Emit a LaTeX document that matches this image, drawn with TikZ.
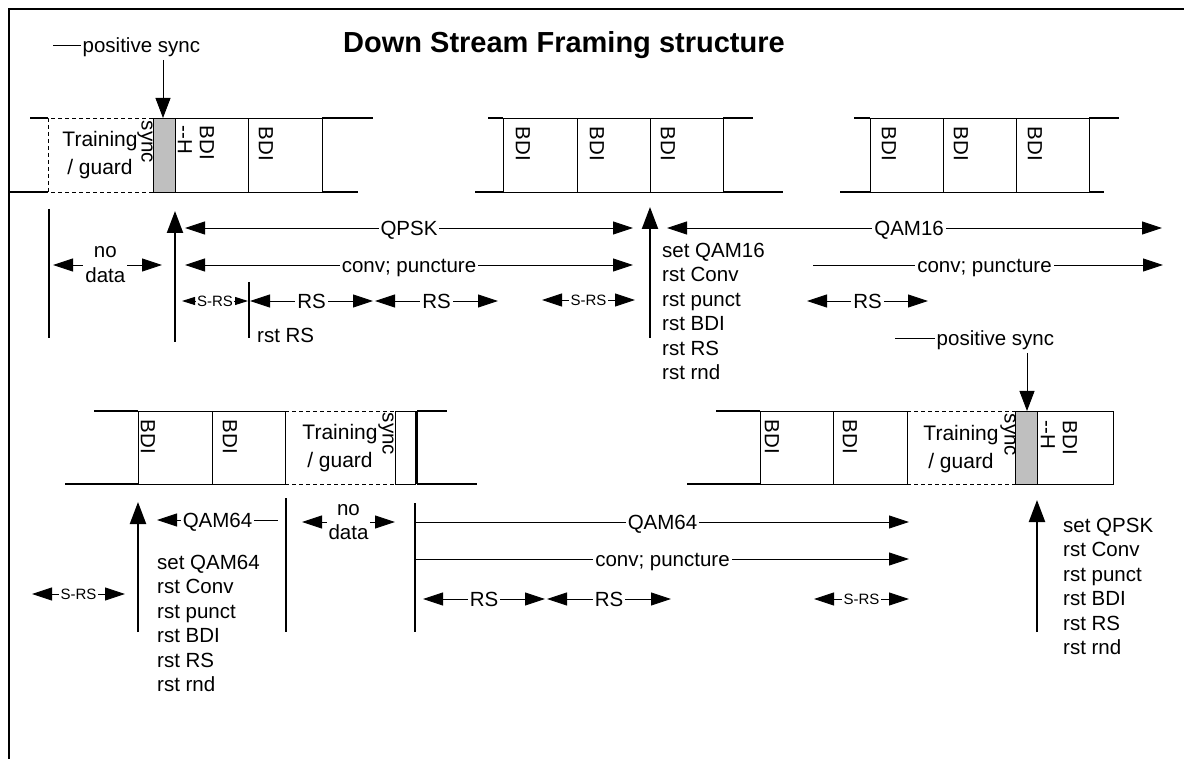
\documentclass[tikz,border=0pt]{standalone}
\usepackage{fontspec}
\setmainfont{Liberation Sans}
\usetikzlibrary{arrows.meta}

\tikzset{
  BigTri/.tip={Triangle[length=20pt,width=13pt]},
  SmallTri/.tip={Triangle[length=13pt,width=8pt]},
  UpTri/.tip={Triangle[length=22pt,width=16pt]},
  DownTri/.tip={Triangle[length=20pt,width=15pt]},
  body/.style={font=\fontsize{20.5}{24.5}\selectfont},
  lbl/.style={fill=white, inner xsep=2pt, inner ysep=0pt, text height=14.5pt,
    text depth=0pt, font=\fontsize{20.5}{24.5}\selectfont},
  slbl/.style={fill=white, inner xsep=1.5pt, inner ysep=0pt, text height=10.5pt,
    text depth=0pt, font=\fontsize{15}{18}\selectfont},
  vtext/.style={rotate=-90, inner sep=0pt, align=left,
    font=\fontsize{20.5}{22}\selectfont},
  guardtext/.style={inner sep=0pt, align=center,
    font=\fontsize{21}{28}\selectfont},
  steplist/.style={inner sep=0pt, align=left, anchor=north west,
    font=\fontsize{20.5}{24.5}\selectfont},
  cellline/.style={line width=0.9pt},
  stub/.style={line width=2pt},
  guardline/.style={line width=0.9pt, dash pattern=on 4pt off 3pt},
  dim/.style={line width=0.9pt},
  mark line/.style={line width=2.2pt},
  syncfill/.style={fill=black!25},
}

\begin{document}
\begin{tikzpicture}[x=1pt,y=-1pt]
\useasboundingbox (0,0) rectangle (1184,759);

% page frame (top and left edges)
\draw[line width=2pt] (9,759) -- (9,9) -- (1184,9);

% title
\node[anchor=base west, inner sep=0pt, font=\fontsize{29}{34}\selectfont\bfseries]
  (title) at (343,53) {Down Stream Framing structure};

% ---------------- upper row: frame 1 ----------------
\draw[stub] (30,118) -- (48,118);
\draw[stub] (9,192) -- (48,192);
\draw[guardline] (153,118) -- (48,118) -- (48,192) -- (153,192);
\draw[cellline, syncfill] (153,118) rectangle (175,192);
\draw[cellline] (175,118) rectangle (248,192);
\draw[cellline] (248,118) rectangle (322,192);
\draw[stub] (322,118) -- (373,118);
\draw[stub] (322,192) -- (358,192);
\node[guardtext] (tg1) at (100,155) {Training\\/ guard};
\node[vtext] (sy1) at (145,142) {sync};
\node[vtext] (bh1) at (196,143) {BDI\\-{}-H};
\node[vtext] (b1) at (266,144) {BDI};

% ---------------- upper row: frame 2 ----------------
\draw[stub] (488,118) -- (503,118);
\draw[stub] (475,192) -- (503,192);
\draw[cellline] (503,118) rectangle (577,192);
\draw[cellline] (577,118) rectangle (650,192);
\draw[cellline] (650,118) rectangle (723,192);
\draw[stub] (723,118) -- (753,118);
\draw[stub] (723,192) -- (783,192);
\node[vtext] (b2) at (523,144) {BDI};
\node[vtext] (b3) at (597,144) {BDI};
\node[vtext] (b4) at (668,144) {BDI};

% ---------------- upper row: frame 3 ----------------
\draw[stub] (854,118) -- (870,118);
\draw[stub] (840,192) -- (870,192);
\draw[cellline] (870,118) rectangle (943,192);
\draw[cellline] (943,118) rectangle (1016,192);
\draw[cellline] (1016,118) rectangle (1089,192);
\draw[stub] (1089,118) -- (1119,118);
\draw[stub] (1089,192) -- (1104,192);
\node[vtext] (b5) at (889,144) {BDI};
\node[vtext] (b6) at (961,144) {BDI};
\node[vtext] (b7) at (1035,144) {BDI};

% positive sync marker, upper row
\node[lbl, fill=none, inner xsep=1.5pt, anchor=west] (ps1) at (81,45) {positive sync};
\coordinate (ps1L) at (53,45);
\draw[dim] (ps1L) -- (ps1.west);
\coordinate (ps1a) at (163,60);
\coordinate (ps1b) at (163,118);
\draw[dim, -DownTri] (ps1a) -- (ps1b);

% markers below upper row
\coordinate (m1a) at (49,209); \coordinate (m1b) at (49,338);
\draw[mark line] (m1a) -- (m1b);
\coordinate (u1a) at (175,342); \coordinate (u1b) at (175,211);
\draw[mark line, -UpTri] (u1a) -- (u1b);
\coordinate (m2a) at (249,282); \coordinate (m2b) at (249,338);
\draw[mark line] (m2a) -- (m2b);
\coordinate (u2a) at (650,338); \coordinate (u2b) at (650,207);
\draw[mark line, -UpTri] (u2a) -- (u2b);

\node[body, anchor=base west, inner sep=0pt] (rstrs) at (257,343) {rst RS};

% dimension arrows, upper row
\coordinate (nd1a) at (53,265); \coordinate (nd1b) at (162,265);
\draw[dim, BigTri-BigTri] (nd1a) -- node[pos=0.48, fill=white, inner xsep=2pt, inner ysep=0pt,
  align=center, font=\fontsize{20.5}{25}\selectfont] (nd1) {no\\data} (nd1b);

\coordinate (qpA) at (185,228); \coordinate (qpB) at (633,228);
\draw[dim, BigTri-BigTri] (qpA) -- node[lbl] (qpsk) {QPSK} (qpB);
\coordinate (cv1A) at (185,265); \coordinate (cv1B) at (633,265);
\draw[dim, BigTri-BigTri] (cv1A) -- node[lbl] (cv1) {conv; puncture} (cv1B);

\coordinate (sr1A) at (182,301); \coordinate (sr1B) at (248,301);
\draw[dim, SmallTri-SmallTri] (sr1A) -- node[slbl] (sr1) {S-RS} (sr1B);
\coordinate (rs1A) at (250,301); \coordinate (rs1B) at (373,301);
\draw[dim, BigTri-BigTri] (rs1A) -- node[lbl] (rs1) {RS} (rs1B);
\coordinate (rs2A) at (375,301); \coordinate (rs2B) at (498,301);
\draw[dim, BigTri-BigTri] (rs2A) -- node[lbl] (rs2) {RS} (rs2B);
\coordinate (sr2A) at (542,300); \coordinate (sr2B) at (635,300);
\draw[dim, BigTri-BigTri] (sr2A) -- node[slbl] (sr2) {S-RS} (sr2B);

\coordinate (q16A) at (667,228); \coordinate (q16B) at (1162,228);
\draw[dim, BigTri-BigTri] (q16A) -- node[lbl, pos=0.489] (q16) {QAM16} (q16B);
\coordinate (cv2A) at (813,265); \coordinate (cv2B) at (1163,265);
\draw[dim, -BigTri] (cv2A) -- node[lbl, pos=0.49] (cv2) {conv; puncture} (cv2B);
\coordinate (rs3A) at (807,301); \coordinate (rs3B) at (928,301);
\draw[dim, BigTri-BigTri] (rs3A) -- node[lbl] (rs3) {RS} (rs3B);

\node[steplist] (list16) at (662,242.5)
  {set QAM16\\rst Conv\\rst punct\\rst BDI\\rst RS\\rst rnd};

% ---------------- lower row: frame 4 ----------------
\draw[stub] (94,411) -- (138,411);
\draw[stub] (65,484) -- (138,484);
\draw[cellline] (138,411) rectangle (212,484);
\draw[cellline] (212,411) rectangle (285,484);
\draw[guardline] (285,411) -- (395,411);
\draw[guardline] (285,484) -- (395,484);
\draw[guardline] (285,411) -- (285,484);
\draw[cellline] (395,411) rectangle (415,484);
\draw[stub] (417,411) -- (417,484);
\draw[stub] (417,411) -- (447,411);
\draw[stub] (417,484) -- (477,484);
\node[vtext] (b8) at (148,437) {BDI};
\node[vtext] (b9) at (230,437) {BDI};
\node[guardtext] (tg2) at (340,448) {Training\\/ guard};
\node[vtext] (sy2) at (386,434) {sync};

% ---------------- lower row: frame 5 ----------------
\draw[stub] (716,411) -- (760,411);
\draw[stub] (687,484) -- (760,484);
\draw[cellline] (760,411) rectangle (833,484);
\draw[cellline] (833,411) rectangle (907,484);
\draw[guardline] (907,411) -- (1015,411);
\draw[guardline] (907,484) -- (1015,484);
\draw[cellline, syncfill] (1015,411) rectangle (1037,484);
\draw[cellline] (1037,411) rectangle (1113,484);
\node[vtext] (b10) at (772,437) {BDI};
\node[vtext] (b11) at (850,437) {BDI};
\node[guardtext] (tg3) at (961,449) {Training\\/ guard};
\node[vtext] (sy3) at (1008,435) {sync};
\node[vtext] (bh2) at (1059,438) {BDI\\-{}-H};

% positive sync marker, lower row
\node[lbl, fill=none, inner xsep=1.5pt, anchor=west] (ps2) at (935,338) {positive sync};
\coordinate (ps2L) at (895,338);
\draw[dim] (ps2L) -- (ps2.west);
\coordinate (ps2a) at (1027,353);
\coordinate (ps2b) at (1027,411);
\draw[dim, -DownTri] (ps2a) -- (ps2b);

% markers below lower row
\coordinate (u3a) at (138,632); \coordinate (u3b) at (138,502);
\draw[mark line, -UpTri] (u3a) -- (u3b);
\coordinate (m3a) at (286,498); \coordinate (m3b) at (286,632);
\draw[mark line] (m3a) -- (m3b);
\coordinate (m4a) at (415,503); \coordinate (m4b) at (415,632);
\draw[mark line] (m4a) -- (m4b);
\coordinate (u4a) at (1037,632); \coordinate (u4b) at (1037,500);
\draw[mark line, -UpTri] (u4a) -- (u4b);

% dimension arrows, lower row
\coordinate (q64aA) at (157,520); \coordinate (q64aB) at (278,520);
\draw[dim, BigTri-] (q64aA) -- node[lbl] (q64a) {QAM64} (q64aB);
\coordinate (nd2a) at (302,522); \coordinate (nd2b) at (395,522);
\draw[dim, BigTri-BigTri] (nd2a) -- node[fill=white, inner xsep=2pt, inner ysep=0pt,
  align=center, font=\fontsize{20.5}{24}\selectfont] (nd2) {no\\data} (nd2b);
\coordinate (q64bA) at (416,522); \coordinate (q64bB) at (909,522);
\draw[dim, -BigTri] (q64bA) -- node[lbl] (q64b) {QAM64} (q64bB);
\coordinate (cv3A) at (416,559); \coordinate (cv3B) at (909,559);
\draw[dim, -BigTri] (cv3A) -- node[lbl] (cv3) {conv; puncture} (cv3B);

\coordinate (sr3A) at (32,594); \coordinate (sr3B) at (125,594);
\draw[dim, BigTri-BigTri] (sr3A) -- node[slbl] (sr3) {S-RS} (sr3B);
\coordinate (rs4A) at (423,599); \coordinate (rs4B) at (545,599);
\draw[dim, BigTri-BigTri] (rs4A) -- node[lbl] (rs4) {RS} (rs4B);
\coordinate (rs5A) at (547,599); \coordinate (rs5B) at (671,599);
\draw[dim, BigTri-BigTri] (rs5A) -- node[lbl] (rs5) {RS} (rs5B);
\coordinate (sr4A) at (814,599); \coordinate (sr4B) at (909,599);
\draw[dim, BigTri-BigTri] (sr4A) -- node[slbl] (sr4) {S-RS} (sr4B);

\node[steplist] (list64) at (157,554.5)
  {set QAM64\\rst Conv\\rst punct\\rst BDI\\rst RS\\rst rnd};
\node[steplist] (listqp) at (1063,517.5)
  {set QPSK\\rst Conv\\rst punct\\rst BDI\\rst RS\\rst rnd};
\end{tikzpicture}
\end{document}
